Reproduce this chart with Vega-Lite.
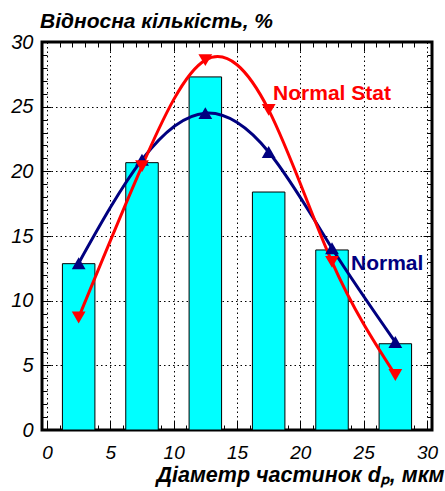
{
  "$schema": "https://vega.github.io/schema/vega-lite/v6.json",
  "width": 390,
  "height": 388,
  "autosize": {"type": "none"},
  "padding": {"left": 42, "top": 42, "right": 13, "bottom": 61},
  "background": "white",
  "config": {
    "view": {"stroke": "black", "strokeWidth": 3},
    "font": "Liberation Sans",
    "axis": {"domain": false, "tickColor": "black", "tickWidth": 1, "labelColor": "black", "titleColor": "black"}
  },
  "title": {
    "text": "Відносна кількість, %",
    "anchor": "start",
    "frame": "group",
    "font": "Liberation Sans",
    "fontSize": 21,
    "fontWeight": "bold",
    "fontStyle": "italic",
    "color": "black",
    "dx": -2,
    "offset": 0
  },
  "datasets": {
    "bars": [
      {"d": 2.5, "pct": 12.86},
      {"d": 7.5, "pct": 20.67},
      {"d": 12.5, "pct": 27.3},
      {"d": 17.5, "pct": 18.4},
      {"d": 22.5, "pct": 13.92},
      {"d": 27.5, "pct": 6.67}
    ],
    "curves": [
      {"series": "Normal", "d": 2.5, "pct": 12.9},
      {"series": "Normal", "d": 7.5, "pct": 20.9},
      {"series": "Normal", "d": 12.5, "pct": 24.5},
      {"series": "Normal", "d": 17.5, "pct": 21.5},
      {"series": "Normal", "d": 22.5, "pct": 14.05},
      {"series": "Normal", "d": 27.5, "pct": 6.8},
      {"series": "Normal Stat", "d": 2.5, "pct": 8.7},
      {"series": "Normal Stat", "d": 7.5, "pct": 20.4},
      {"series": "Normal Stat", "d": 12.5, "pct": 28.6},
      {"series": "Normal Stat", "d": 17.5, "pct": 24.75},
      {"series": "Normal Stat", "d": 22.5, "pct": 13.0},
      {"series": "Normal Stat", "d": 27.5, "pct": 4.25}
    ],
    "labels": [
      {"series": "Normal", "d": 24.0, "pct": 12.8},
      {"series": "Normal Stat", "d": 17.85, "pct": 25.95}
    ]
  },
  "layer": [
    {
      "data": {"name": "bars"},
      "mark": {"type": "bar", "width": 32.5, "fill": "#00FFFF", "stroke": "black", "strokeWidth": 1},
      "encoding": {
        "x": {
          "field": "d", "type": "quantitative",
          "scale": {"domain": [0, 30], "nice": false, "zero": false},
          "axis": {
            "orient": "bottom", "values": [0, 5, 10, 15, 20, 25, 30],
            "tickSize": -9, "labelPadding": 22, "labelFontSize": 19, "labelFontStyle": "italic",
            "labelFont": "Liberation Sans", "labelFlush": false,
            "grid": true, "gridColor": "black", "gridDash": [1.5, 3], "gridWidth": 1,
            "title": "Діаметр частинок dₚ, мкм", "titleFontSize": 21.5, "titleFontWeight": "bold",
            "titleFontStyle": "italic", "titleFont": "Liberation Sans",
            "titleAlign": "right", "titleAnchor": "end", "titleBaseline": "alphabetic",
            "titleX": 402, "titleY": 51
          }
        },
        "y": {
          "field": "pct", "type": "quantitative",
          "scale": {"domain": [0, 30], "nice": false},
          "axis": {
            "orient": "left", "values": [0, 5, 10, 15, 20, 25, 30],
            "tickSize": -9, "labelPadding": 18, "labelFontSize": 20, "labelFontStyle": "italic",
            "labelFont": "Liberation Sans", "labelFlush": false,
            "grid": true, "gridColor": "black", "gridDash": [1.5, 3], "gridWidth": 1,
            "title": null
          }
        }
      }
    },
    {
      "data": {"name": "curves"},
      "mark": {"type": "line", "interpolate": "natural", "strokeWidth": 3},
      "encoding": {
        "x": {
          "field": "d", "type": "quantitative",
          "axis": {"orient": "bottom", "values": [1,2,3,4,6,7,8,9,11,12,13,14,16,17,18,19,21,22,23,24,26,27,28,29],
            "tickSize": -5, "labels": false, "grid": false, "title": null}
        },
        "y": {
          "field": "pct", "type": "quantitative",
          "axis": {"orient": "left", "values": [1,2,3,4,6,7,8,9,11,12,13,14,16,17,18,19,21,22,23,24,26,27,28,29],
            "tickSize": -5, "labels": false, "grid": false, "title": null}
        },
        "color": {
          "field": "series", "type": "nominal",
          "scale": {"domain": ["Normal", "Normal Stat"], "range": ["#000080", "#FF0000"]},
          "legend": null
        }
      }
    },
    {
      "data": {"name": "curves"},
      "mark": {"type": "point", "filled": true, "size": 190, "opacity": 1},
      "encoding": {
        "x": {
          "field": "d", "type": "quantitative",
          "axis": {"orient": "top", "values": [1,2,3,4,6,7,8,9,11,12,13,14,16,17,18,19,21,22,23,24,26,27,28,29],
            "tickSize": -5, "labels": false, "grid": false, "title": null}
        },
        "y": {
          "field": "pct", "type": "quantitative",
          "axis": {"orient": "right", "values": [1,2,3,4,6,7,8,9,11,12,13,14,16,17,18,19,21,22,23,24,26,27,28,29],
            "tickSize": -5, "labels": false, "grid": false, "title": null}
        },
        "color": {"field": "series", "type": "nominal", "legend": null},
        "shape": {
          "field": "series", "type": "nominal",
          "scale": {"domain": ["Normal", "Normal Stat"], "range": ["triangle-up", "triangle-down"]},
          "legend": null
        }
      }
    },
    {
      "data": {"name": "labels"},
      "mark": {"type": "text", "align": "left", "baseline": "middle", "fontSize": 21, "fontWeight": "bold", "font": "Liberation Sans"},
      "encoding": {
        "x": {
          "field": "d", "type": "quantitative",
          "axis": {"orient": "top", "values": [5, 10, 15, 20, 25], "tickSize": -9, "labels": false, "grid": false, "title": null}
        },
        "y": {
          "field": "pct", "type": "quantitative",
          "axis": {"orient": "right", "values": [5, 10, 15, 20, 25], "tickSize": -9, "labels": false, "grid": false, "title": null}
        },
        "text": {"field": "series"},
        "color": {"field": "series", "type": "nominal", "legend": null}
      }
    }
  ],
  "resolve": {"axis": {"x": "independent", "y": "independent"}}
}
